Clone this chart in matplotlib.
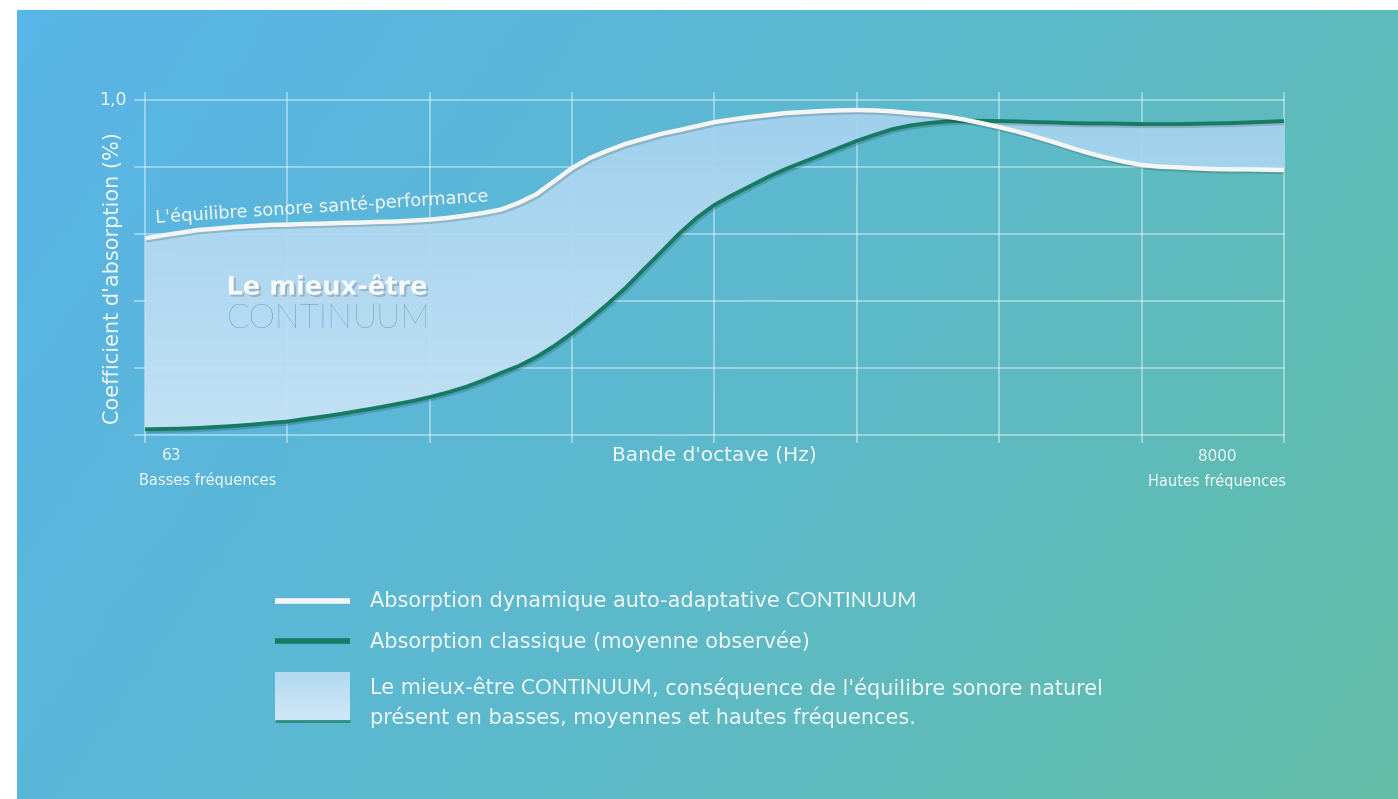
import numpy as np
import matplotlib
matplotlib.use("Agg")
import matplotlib.pyplot as plt
import matplotlib.patheffects as pe
from matplotlib.colors import LinearSegmentedColormap

W, H = 1398, 799

# position along the octave bands (0 = 63 Hz ... 8 = last band), one reading every 1/8 octave
band_pos = np.arange(65) / 8

# absorption dynamique auto-adaptative CONTINUUM (white curve)
continuum = [0.587, 0.596, 0.604, 0.612, 0.616, 0.621, 0.624, 0.627, 0.628,
             0.630, 0.631, 0.633, 0.634, 0.636, 0.637, 0.640, 0.643, 0.648,
             0.655, 0.663, 0.673, 0.693, 0.719, 0.758, 0.797, 0.827, 0.849,
             0.869, 0.884, 0.899, 0.910, 0.922, 0.934, 0.942, 0.949, 0.955,
             0.961, 0.964, 0.967, 0.969, 0.970, 0.969, 0.966, 0.961, 0.957,
             0.951, 0.942, 0.931, 0.919, 0.906, 0.891, 0.875, 0.858, 0.842,
             0.828, 0.816, 0.806, 0.801, 0.799, 0.796, 0.794, 0.793, 0.793,
             0.792, 0.791]

# absorption classique, moyenne observee (green curve)
classique = [0.017, 0.018, 0.019, 0.021, 0.024, 0.027, 0.031, 0.036, 0.040,
             0.048, 0.055, 0.063, 0.072, 0.081, 0.091, 0.101, 0.113, 0.127,
             0.143, 0.163, 0.185, 0.206, 0.233, 0.266, 0.304, 0.346, 0.391,
             0.439, 0.493, 0.546, 0.600, 0.648, 0.687, 0.716, 0.743, 0.770,
             0.794, 0.815, 0.836, 0.857, 0.878, 0.896, 0.913, 0.924, 0.931,
             0.936, 0.938, 0.938, 0.937, 0.936, 0.934, 0.933, 0.931, 0.930,
             0.930, 0.929, 0.928, 0.928, 0.928, 0.929, 0.930, 0.931, 0.933,
             0.935, 0.937]

y_grid = [0, 0.2, 0.4, 0.6, 0.8, 1.0]
x_grid = [0, 1, 2, 3, 4, 5, 6, 7, 8]

txt = "#f1f7f9"
white_line = "#f4f6f6"
green_line = "#177a62"
font = "DejaVu Sans"

fig = plt.figure(figsize=(W / 100, H / 100), dpi=100)
fig.patch.set_facecolor("white")

# background with diagonal gradient
bg = fig.add_axes([0, 0, 1, 1])
gx, gy = np.meshgrid(np.linspace(0, 1, 300), np.linspace(0, 1, 200))
grad = 0.72 * gx + 0.28 * gy
bg_cmap = LinearSegmentedColormap.from_list("bg", ["#59b4e8", "#5cb9cd", "#62bea6"])
bg.imshow(grad, extent=[17, W, H, 10], cmap=bg_cmap, aspect="auto", zorder=0)
bg.set_xlim(0, W)
bg.set_ylim(H, 0)
bg.axis("off")

# chart
ax = fig.add_axes([145 / W, 1 - 435 / H, 1139 / W, 335 / H])
ax.set_xlim(0, 8)
ax.set_ylim(0, 1)
ax.axis("off")

for v in y_grid:
    ax.plot([-0.07, 8], [v, v], color="white", alpha=0.42, lw=1.3,
            clip_on=False, zorder=1)
for i in x_grid:
    ax.plot([i, i], [-0.021, 1.021], color="white", alpha=0.42, lw=1.3,
            clip_on=False, zorder=1)

# light blue band between the two curves, with a soft vertical gradient
band = ax.fill_between(band_pos, continuum, classique, color="none", zorder=2)
fill_cmap = LinearSegmentedColormap.from_list("fill", ["#c8e4f6", "#a2d1ee"])
im = ax.imshow(np.linspace(0, 1, 100).reshape(-1, 1), extent=[0, 8, 0, 1],
               origin="lower", cmap=fill_cmap, aspect="auto", alpha=0.95, zorder=2)
im.set_clip_path(band.get_paths()[0], transform=ax.transData)

shadow = [pe.SimpleLineShadow(offset=(1, -1.5), alpha=0.15), pe.Normal()]
ax.plot(band_pos, classique, color=green_line, lw=2.8, zorder=3,
        solid_capstyle="butt", solid_joinstyle="round", path_effects=shadow)
ax.plot(band_pos, continuum, color=white_line, lw=3.2, zorder=4,
        solid_capstyle="butt", solid_joinstyle="round", path_effects=shadow)

ax.text(-0.13, 1.0, "1,0", ha="right", va="center", fontsize=12.5,
        color=txt, family=font)
ax.text(-0.225, 0.469, "Coefficient d'absorption (%)", rotation=90, ha="center",
        va="center", fontsize=15, color=txt, family=font)
ax.text(0.19, -0.06, "63", ha="center", va="center", fontsize=11, color=txt, family=font)
ax.text(0.44, -0.135, "Basses fréquences", ha="center", va="center", fontsize=10.5,
        color=txt, family=font)
ax.text(4.0, -0.06, "Bande d'octave (Hz)", ha="center", va="center", fontsize=14.5,
        color=txt, family=font)
ax.text(7.53, -0.063, "8000", ha="center", va="center", fontsize=11, color=txt, family=font)
ax.text(7.53, -0.138, "Hautes fréquences", ha="center", va="center", fontsize=10.5,
        color=txt, family=font)

ax.text(0.075, 0.632, "L'équilibre sonore santé-performance", rotation=3.7,
        rotation_mode="anchor", ha="left", va="baseline", fontsize=12.8,
        color=txt, family=font, zorder=5)

ax.text(1.28, 0.44, "Le mieux-être", ha="center", va="center", fontsize=18.5,
        fontweight="bold", color="#f7fbfd", family=font, zorder=5,
        path_effects=[pe.withSimplePatchShadow(offset=(1.5, -1.5), alpha=0.25)])
logo = ax.text(1.46, 0.345, "CONTIN", ha="right", va="center", fontsize=24,
               fontweight="light", color="#2f86c0", family="Lato", zorder=5)
ax.annotate("UUM", xy=(1, 0.5), xycoords=logo, ha="left", va="center",
            fontsize=24, fontweight="light", color="#2f9a78", family="Lato", zorder=5)

# legend
bg.plot([275, 350], [601, 601], color=white_line, lw=4, solid_capstyle="butt")
bg.plot([275, 350], [641, 641], color=green_line, lw=4, solid_capstyle="butt")
bg.imshow(np.linspace(0, 1, 50).reshape(-1, 1), extent=[275, 350, 721, 672],
          cmap=LinearSegmentedColormap.from_list("lf", ["#b2d9f0", "#cfe8f7"]),
          aspect="auto", zorder=2)
bg.plot([275, 350], [721, 721], color="#2f8a80", lw=2, solid_capstyle="butt", zorder=3)
bg.set_xlim(0, W)
bg.set_ylim(H, 0)

fs = 15
t1 = bg.text(370, 601, "Absorption dynamique auto-adaptative ", ha="left",
             va="center", fontsize=fs, color=txt, family=font)
bg.annotate("CONTINUUM", xy=(1, 0.5), xycoords=t1, ha="left", va="center",
            fontsize=fs, color=txt, family="Lato")
bg.text(370, 641, "Absorption classique (moyenne observée)", ha="left",
        va="center", fontsize=fs, color=txt, family=font)
t3 = bg.text(370, 688, "Le mieux-être ", ha="left", va="center", fontsize=fs,
             color=txt, family=font)
t4 = bg.annotate("CONTINUUM", xy=(1, 0.5), xycoords=t3, ha="left", va="center",
                 fontsize=fs, color=txt, family="Lato")
bg.annotate(", conséquence de l'équilibre sonore naturel", xy=(1, 0.5), xycoords=t4,
            ha="left", va="center", fontsize=fs, color=txt, family=font)
bg.text(370, 717, "présent en basses, moyennes et hautes fréquences.", ha="left",
        va="center", fontsize=fs, color=txt, family=font)

fig.savefig("out.png", dpi=100)
